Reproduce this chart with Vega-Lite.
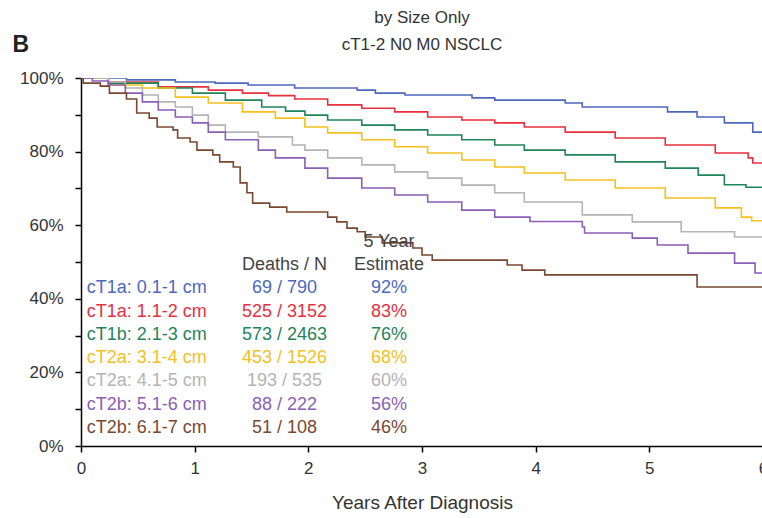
{
"$schema":"https://vega.github.io/schema/vega-lite/v6.json",
"width":682,"height":368,
"autosize":{"type":"none"},
"padding":{"left":81,"top":78,"right":0,"bottom":72},
"background":"white",
"config":{"font":"Liberation Sans","view":{"stroke":null}},
"datasets":{
"km":[
{"g":"0.1-1","t":0,"s":100},{"g":"0.1-1","t":0.4,"s":99.5},{"g":"0.1-1","t":0.83,"s":98.9},{"g":"0.1-1","t":1.18,"s":98.6},{"g":"0.1-1","t":1.47,"s":98.1},{"g":"0.1-1","t":1.88,"s":97.3},{"g":"0.1-1","t":2.43,"s":96.7},{"g":"0.1-1","t":2.59,"s":95.9},{"g":"0.1-1","t":2.85,"s":95.4},{"g":"0.1-1","t":3.44,"s":94.6},{"g":"0.1-1","t":3.64,"s":94.0},{"g":"0.1-1","t":4.26,"s":93.2},{"g":"0.1-1","t":4.41,"s":92.1},{"g":"0.1-1","t":5.16,"s":90.8},{"g":"0.1-1","t":5.42,"s":89.4},{"g":"0.1-1","t":5.66,"s":87.8},{"g":"0.1-1","t":5.91,"s":85.3},{"g":"0.1-1","t":6.0,"s":85.3},
{"g":"1.1-2","t":0,"s":100},{"g":"1.1-2","t":0.24,"s":98.9},{"g":"1.1-2","t":0.68,"s":97.6},{"g":"1.1-2","t":1.12,"s":96.7},{"g":"1.1-2","t":1.42,"s":95.9},{"g":"1.1-2","t":1.65,"s":95.2},{"g":"1.1-2","t":1.88,"s":94.3},{"g":"1.1-2","t":2.17,"s":92.7},{"g":"1.1-2","t":2.47,"s":91.8},{"g":"1.1-2","t":2.76,"s":90.8},{"g":"1.1-2","t":3.05,"s":89.4},{"g":"1.1-2","t":3.35,"s":88.6},{"g":"1.1-2","t":3.64,"s":87.8},{"g":"1.1-2","t":3.9,"s":86.7},{"g":"1.1-2","t":4.26,"s":85.3},{"g":"1.1-2","t":4.7,"s":83.7},{"g":"1.1-2","t":5.14,"s":81.8},{"g":"1.1-2","t":5.58,"s":79.6},{"g":"1.1-2","t":5.87,"s":78.3},{"g":"1.1-2","t":5.91,"s":76.9},{"g":"1.1-2","t":6.0,"s":76.9},
{"g":"2.1-3","t":0,"s":100},{"g":"2.1-3","t":0.24,"s":98.6},{"g":"2.1-3","t":0.68,"s":97.3},{"g":"2.1-3","t":0.98,"s":95.9},{"g":"2.1-3","t":1.27,"s":94.0},{"g":"2.1-3","t":1.59,"s":92.1},{"g":"2.1-3","t":1.8,"s":91.0},{"g":"2.1-3","t":1.97,"s":89.9},{"g":"2.1-3","t":2.17,"s":88.6},{"g":"2.1-3","t":2.47,"s":87.2},{"g":"2.1-3","t":2.76,"s":85.9},{"g":"2.1-3","t":3.05,"s":84.5},{"g":"2.1-3","t":3.35,"s":83.2},{"g":"2.1-3","t":3.64,"s":81.8},{"g":"2.1-3","t":3.9,"s":80.4},{"g":"2.1-3","t":4.26,"s":79.1},{"g":"2.1-3","t":4.7,"s":77.2},{"g":"2.1-3","t":5.14,"s":75.5},{"g":"2.1-3","t":5.43,"s":73.6},{"g":"2.1-3","t":5.66,"s":71.0},{"g":"2.1-3","t":5.85,"s":70.3},{"g":"2.1-3","t":6.0,"s":70.1},
{"g":"3.1-4","t":0,"s":100},{"g":"3.1-4","t":0.24,"s":98.1},{"g":"3.1-4","t":0.54,"s":97.3},{"g":"3.1-4","t":0.83,"s":94.8},{"g":"3.1-4","t":1.12,"s":93.2},{"g":"3.1-4","t":1.42,"s":90.8},{"g":"3.1-4","t":1.71,"s":89.1},{"g":"3.1-4","t":1.97,"s":86.7},{"g":"3.1-4","t":2.17,"s":85.1},{"g":"3.1-4","t":2.47,"s":83.2},{"g":"3.1-4","t":2.76,"s":81.3},{"g":"3.1-4","t":3.05,"s":79.6},{"g":"3.1-4","t":3.35,"s":77.7},{"g":"3.1-4","t":3.64,"s":75.8},{"g":"3.1-4","t":3.9,"s":74.2},{"g":"3.1-4","t":4.26,"s":72.3},{"g":"3.1-4","t":4.7,"s":70.1},{"g":"3.1-4","t":5.14,"s":67.4},{"g":"3.1-4","t":5.58,"s":64.7},{"g":"3.1-4","t":5.81,"s":62.2},{"g":"3.1-4","t":5.9,"s":61.2},{"g":"3.1-4","t":6.0,"s":61.0},
{"g":"4.1-5","t":0,"s":100},{"g":"4.1-5","t":0.24,"s":98.9},{"g":"4.1-5","t":0.39,"s":97.3},{"g":"4.1-5","t":0.54,"s":95.4},{"g":"4.1-5","t":0.68,"s":93.5},{"g":"4.1-5","t":0.83,"s":92.1},{"g":"4.1-5","t":0.98,"s":89.9},{"g":"4.1-5","t":1.12,"s":87.2},{"g":"4.1-5","t":1.27,"s":85.3},{"g":"4.1-5","t":1.56,"s":84.0},{"g":"4.1-5","t":1.86,"s":81.8},{"g":"4.1-5","t":1.97,"s":80.4},{"g":"4.1-5","t":2.17,"s":78.3},{"g":"4.1-5","t":2.47,"s":76.4},{"g":"4.1-5","t":2.76,"s":74.5},{"g":"4.1-5","t":3.05,"s":72.8},{"g":"4.1-5","t":3.35,"s":70.9},{"g":"4.1-5","t":3.64,"s":68.8},{"g":"4.1-5","t":3.9,"s":66.3},{"g":"4.1-5","t":4.41,"s":62.8},{"g":"4.1-5","t":4.85,"s":60.9},{"g":"4.1-5","t":5.28,"s":58.2},{"g":"4.1-5","t":5.75,"s":56.8},{"g":"4.1-5","t":6.0,"s":56.5},
{"g":"5.1-6","t":0,"s":100},{"g":"5.1-6","t":0.1,"s":99.2},{"g":"5.1-6","t":0.24,"s":98.1},{"g":"5.1-6","t":0.39,"s":95.9},{"g":"5.1-6","t":0.54,"s":93.5},{"g":"5.1-6","t":0.68,"s":91.3},{"g":"5.1-6","t":0.83,"s":89.4},{"g":"5.1-6","t":0.98,"s":87.8},{"g":"5.1-6","t":1.12,"s":85.3},{"g":"5.1-6","t":1.27,"s":83.2},{"g":"5.1-6","t":1.56,"s":80.4},{"g":"5.1-6","t":1.71,"s":78.3},{"g":"5.1-6","t":1.97,"s":75.5},{"g":"5.1-6","t":2.17,"s":72.8},{"g":"5.1-6","t":2.47,"s":70.1},{"g":"5.1-6","t":2.76,"s":68.2},{"g":"5.1-6","t":3.05,"s":66.3},{"g":"5.1-6","t":3.35,"s":64.1},{"g":"5.1-6","t":3.64,"s":62.2},{"g":"5.1-6","t":3.95,"s":61.0},{"g":"5.1-6","t":4.41,"s":59.5},{"g":"5.1-6","t":4.43,"s":57.9},{"g":"5.1-6","t":4.85,"s":56.5},{"g":"5.1-6","t":5.07,"s":54.6},{"g":"5.1-6","t":5.34,"s":52.4},{"g":"5.1-6","t":5.75,"s":49.7},{"g":"5.1-6","t":5.93,"s":47.0},{"g":"5.1-6","t":6.0,"s":47.0},
{"g":"6.1-7","t":0,"s":100},{"g":"6.1-7","t":0.02,"s":98.6},{"g":"6.1-7","t":0.17,"s":97.8},{"g":"6.1-7","t":0.25,"s":95.9},{"g":"6.1-7","t":0.4,"s":94.3},{"g":"6.1-7","t":0.49,"s":90.5},{"g":"6.1-7","t":0.6,"s":89.1},{"g":"6.1-7","t":0.67,"s":86.7},{"g":"6.1-7","t":0.81,"s":85.9},{"g":"6.1-7","t":0.85,"s":83.7},{"g":"6.1-7","t":0.96,"s":82.6},{"g":"6.1-7","t":1.02,"s":80.4},{"g":"6.1-7","t":1.16,"s":79.1},{"g":"6.1-7","t":1.22,"s":77.2},{"g":"6.1-7","t":1.34,"s":75.8},{"g":"6.1-7","t":1.4,"s":71.5},{"g":"6.1-7","t":1.46,"s":68.8},{"g":"6.1-7","t":1.51,"s":66.0},{"g":"6.1-7","t":1.66,"s":64.9},{"g":"6.1-7","t":1.81,"s":63.6},{"g":"6.1-7","t":2.17,"s":62.2},{"g":"6.1-7","t":2.25,"s":60.9},{"g":"6.1-7","t":2.34,"s":59.2},{"g":"6.1-7","t":2.43,"s":58.2},{"g":"6.1-7","t":2.5,"s":56.8},{"g":"6.1-7","t":2.65,"s":55.2},{"g":"6.1-7","t":2.92,"s":53.8},{"g":"6.1-7","t":3.0,"s":51.9},{"g":"6.1-7","t":3.09,"s":50.5},{"g":"6.1-7","t":3.75,"s":49.2},{"g":"6.1-7","t":3.88,"s":47.8},{"g":"6.1-7","t":4.08,"s":46.5},{"g":"6.1-7","t":5.42,"s":43.2},{"g":"6.1-7","t":6.0,"s":43.2}
],
"tbl":[
{"g":"0.1-1","lab":"cT1a: 0.1-1 cm","dn":"69 / 790","est":"92%","row":2},
{"g":"1.1-2","lab":"cT1a: 1.1-2 cm","dn":"525 / 3152","est":"83%","row":3},
{"g":"2.1-3","lab":"cT1b: 2.1-3 cm","dn":"573 / 2463","est":"76%","row":4},
{"g":"3.1-4","lab":"cT2a: 3.1-4 cm","dn":"453 / 1526","est":"68%","row":5},
{"g":"4.1-5","lab":"cT2a: 4.1-5 cm","dn":"193 / 535","est":"60%","row":6},
{"g":"5.1-6","lab":"cT2b: 5.1-6 cm","dn":"88 / 222","est":"56%","row":7},
{"g":"6.1-7","lab":"cT2b: 6.1-7 cm","dn":"51 / 108","est":"46%","row":8}
],
"hdr":[
{"h":"5 Year","row":0,"col":"est"},
{"h":"Deaths / N","row":1,"col":"dn"},
{"h":"Estimate","row":1,"col":"est"}
]
},
"layer":[
{"data":{"name":"km"},
 "mark":{"type":"line","interpolate":"step-after","strokeWidth":1.6,"clip":true},
 "encoding":{
  "x":{"field":"t","type":"quantitative","scale":{"domain":[0,6],"nice":false},
   "axis":{"values":[0,1,2,3,4,5,6],"format":"d","grid":false,"domainColor":"#000","domainWidth":1.5,"tickColor":"#000","tickWidth":1.5,"tickSize":6,"labelFontSize":17,"labelColor":"#333","labelPadding":8,"labelFlush":false,"title":"Years After Diagnosis","titleFontSize":19,"titleFontWeight":"normal","titleColor":"#333","titlePadding":17}},
  "y":{"field":"s","type":"quantitative","scale":{"domain":[0,100],"nice":false},
   "axis":{"values":[0,10,20,30,40,50,60,70,80,90,100],"labelExpr":"datum.value % 20 == 0 ? datum.value + '%' : ''","grid":false,"domainColor":"#000","domainWidth":1.5,"tickColor":"#000","tickWidth":1.5,"tickSize":6,"labelFontSize":17,"labelColor":"#333","labelPadding":12,"title":null}},
  "color":{"field":"g","type":"nominal","scale":{"domain":["0.1-1","1.1-2","2.1-3","3.1-4","4.1-5","5.1-6","6.1-7"],"range":["#4d68bd","#e6303f","#1f8558","#f3c01f","#b4b4b4","#8a5fb5","#7a4830"]},"legend":null}
 }},
{"data":{"name":"tbl"},
 "mark":{"type":"text","align":"left","baseline":"middle","fontSize":18},
 "encoding":{
  "x":{"datum":0.05,"type":"quantitative"},
  "y":{"field":"row","type":"quantitative","scale":{"domain":[-7.02,8.77],"reverse":true,"nice":false,"zero":false},"axis":null},
  "text":{"field":"lab"},
  "color":{"field":"g","type":"nominal","legend":null}
 }},
{"data":{"name":"tbl"},
 "mark":{"type":"text","align":"center","baseline":"middle","fontSize":18},
 "encoding":{
  "x":{"datum":1.79,"type":"quantitative"},
  "y":{"field":"row","type":"quantitative","scale":{"domain":[-7.02,8.77],"reverse":true,"nice":false,"zero":false},"axis":null},
  "text":{"field":"dn"},
  "color":{"field":"g","type":"nominal","legend":null}
 }},
{"data":{"name":"tbl"},
 "mark":{"type":"text","align":"center","baseline":"middle","fontSize":18},
 "encoding":{
  "x":{"datum":2.71,"type":"quantitative"},
  "y":{"field":"row","type":"quantitative","scale":{"domain":[-7.02,8.77],"reverse":true,"nice":false,"zero":false},"axis":null},
  "text":{"field":"est"},
  "color":{"field":"g","type":"nominal","legend":null}
 }},
{"data":{"name":"hdr"},
 "transform":[{"filter":"datum.col == 'dn'"}],
 "mark":{"type":"text","align":"center","baseline":"middle","fontSize":18,"color":"#444"},
 "encoding":{
  "x":{"datum":1.79,"type":"quantitative"},
  "y":{"field":"row","type":"quantitative","scale":{"domain":[-7.02,8.77],"reverse":true,"nice":false,"zero":false},"axis":null},
  "text":{"field":"h"}
 }},
{"data":{"name":"hdr"},
 "transform":[{"filter":"datum.col == 'est'"}],
 "mark":{"type":"text","align":"center","baseline":"middle","fontSize":18,"color":"#444"},
 "encoding":{
  "x":{"datum":2.71,"type":"quantitative"},
  "y":{"field":"row","type":"quantitative","scale":{"domain":[-7.02,8.77],"reverse":true,"nice":false,"zero":false},"axis":null},
  "text":{"field":"h"}
 }},
{"data":{"values":[{"h":"B"}]},
 "mark":{"type":"text","align":"center","baseline":"middle","fontSize":23,"fontWeight":"bold","color":"#222"},
 "encoding":{
  "x":{"datum":-0.53,"type":"quantitative"},
  "y":{"datum":109,"type":"quantitative","scale":{"domain":[0,100],"nice":false},"axis":null},
  "text":{"field":"h"}
 }},
{"data":{"values":[{"h":"by Size Only"}]},
 "mark":{"type":"text","align":"center","baseline":"middle","fontSize":17,"color":"#333"},
 "encoding":{
  "x":{"datum":3.0,"type":"quantitative"},
  "y":{"datum":116.3,"type":"quantitative","scale":{"domain":[0,100],"nice":false},"axis":null},
  "text":{"field":"h"}
 }},
{"data":{"values":[{"h":"cT1-2 N0 M0 NSCLC"}]},
 "mark":{"type":"text","align":"center","baseline":"middle","fontSize":17,"color":"#333"},
 "encoding":{
  "x":{"datum":3.0,"type":"quantitative"},
  "y":{"datum":109,"type":"quantitative","scale":{"domain":[0,100],"nice":false},"axis":null},
  "text":{"field":"h"}
 }}
],
"resolve":{"scale":{"y":"independent"}}
}
